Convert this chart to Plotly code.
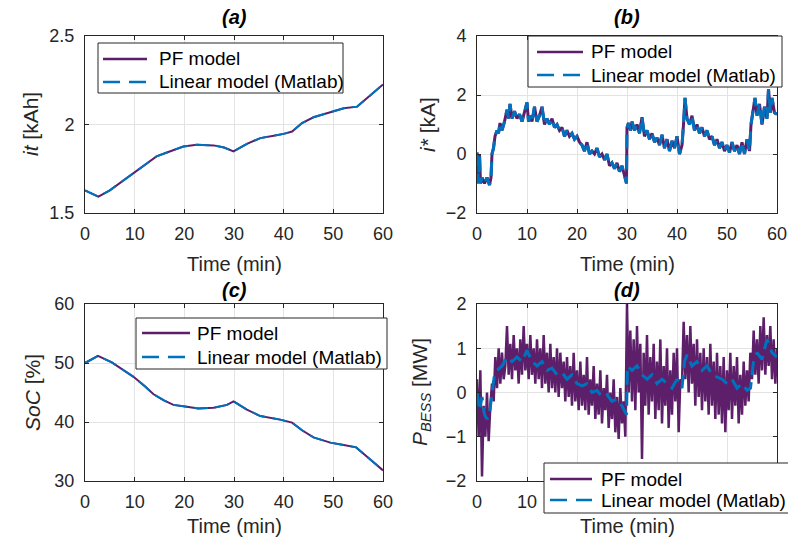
import numpy as np
import plotly.graph_objects as go

# ---------------- data ----------------
# (a) it [kAh]
time_a = [0, 1.2, 2.7, 5.0, 7.5, 9.7, 12.0, 14.4, 16.5, 19.8, 22.5, 25.9, 28.0, 29.9,
          32.6, 35.3, 38.0, 40.0, 41.7, 43.7, 46.0, 49.4, 52.1, 54.8, 57.5, 60.0]
it_a = [1.628, 1.612, 1.592, 1.628, 1.680, 1.726, 1.774, 1.820, 1.842, 1.876, 1.885, 1.882,
        1.870, 1.848, 1.891, 1.923, 1.937, 1.947, 1.960, 2.008, 2.041, 2.071, 2.092, 2.101,
        2.167, 2.226]

# (b) i* [kA]
time_b = [0, 0.3, 0.5, 0.7, 1, 1.5, 2, 2.5, 2.8, 3.0, 3.3, 3.6, 4, 4.3, 4.6, 5, 5.5, 6, 6.3,
          6.6, 7, 7.5, 8, 8.5, 9, 9.5, 10, 10.3, 10.7, 11, 11.5, 12, 12.5, 13, 13.5, 14, 14.5,
          15, 15.5, 16, 16.5, 17, 17.5, 18, 18.5, 19, 19.5, 20, 20.5, 21, 21.5, 22, 22.5, 23,
          23.5, 24, 24.5, 25, 25.5, 26, 26.5, 27, 27.5, 28, 28.5, 29, 29.5, 29.9, 30.0, 30.3,
          30.7, 31, 31.5, 32, 32.5, 33, 33.5, 34, 34.5, 35, 35.5, 36, 36.5, 37, 37.5, 38, 38.5,
          39, 39.5, 40, 40.5, 41, 41.3, 41.6, 42, 42.5, 43, 43.5, 44, 44.5, 45, 45.5, 46, 46.5,
          47, 47.5, 48, 48.5, 49, 49.5, 50, 50.5, 51, 51.5, 52, 52.5, 53, 53.5, 54, 54.5, 54.8,
          55.2, 55.6, 56, 56.5, 57, 57.5, 58, 58.3, 58.7, 59, 59.5, 60]
istar_b = [0.05, -1.0, 0.0, -1.0, -0.8, -1.0, -0.8, -1.05, -0.8, 0.0, 0.2, 0.6, 0.8, 0.7, 1.05,
           0.8, 1.1, 1.5, 1.2, 1.7, 1.2, 1.45, 1.2, 1.35, 1.1, 1.4, 1.75, 1.1, 1.3, 1.1, 1.6, 1.1,
           1.3, 1.6, 1.0, 1.2, 1.0, 1.2, 0.9, 1.0, 0.8, 0.9, 0.6, 0.8, 0.6, 0.7, 0.5, 0.6, 0.4,
           0.3, 0.1, 0.4, 0.0, 0.1, 0.0, 0.2, -0.1, 0.0, -0.2, 0.0, -0.4, -0.3, -0.5, -0.3, -0.6,
           -0.4, -0.7, -1.0, 0.9, 1.05, 0.8, 1.1, 0.8, 1.0, 0.7, 1.25, 0.6, 0.8, 0.5, 0.7, 0.4,
           0.55, 0.3, 0.65, 0.2, 0.5, 0.1, 0.45, 0.2, 0.6, 0.0, 0.3, 1.0, 1.9, 1.2, 1.0, 1.3, 0.8,
           1.0, 0.7, 0.9, 0.6, 0.8, 0.5, 0.6, 0.3, 0.5, 0.2, 0.4, 0.1, 0.3, 0.05, 0.4, 0.1, 0.3,
           0.0, 0.4, 0.0, 0.5, 0.1, 1.0, 1.5, 1.9, 1.3, 1.7, 1.0, 1.6, 1.2, 2.2, 1.4, 1.9, 1.4,
           1.35]

# (c) SoC [%]
time_c = [0, 2.6, 5.4, 7.5, 9.7, 12.0, 13.8, 15.8, 17.8, 20.5, 22.8, 25.9, 28.6, 29.9, 32.6,
          35.3, 39.3, 41.7, 43.7, 46.0, 49.4, 52.1, 54.6, 57.5, 60.0]
soc_c = [50.0, 51.2, 50.1, 48.9, 47.7, 46.1, 44.7, 43.7, 42.9, 42.6, 42.3, 42.4, 42.9, 43.5,
         42.1, 41.0, 40.4, 39.9, 38.6, 37.4, 36.5, 36.1, 35.7, 33.6, 31.8]

# (d) P_BESS [MW] -- PF model sampled every 1/3 min
step_d = 1.0 / 3.0
p_pf_d = [
    0.3, -1.0, 0.5, -1.9, -0.3, -1.0, 0.0, -1.1, -0.3,
    0.2, -0.2, 0.8, 0.1, 1.0, 0.2, 0.9, 0.3, 0.6,
    1.5, 0.4, 1.1, 0.3, 1.3, 0.5, 1.0, 0.2, 1.2,
    0.4, 1.5, 0.5, 1.1, 0.3, 1.3, 0.4, 1.0, 0.2,
    1.2, 0.3, 1.0, 0.1, 1.3, 0.2, 0.9, 0.0, 1.1,
    0.1, 0.8, 0.0, 1.0, -0.1, 0.9, 0.1, 0.7, -0.2,
    0.8, -0.1, 0.6, -0.3, 0.9, -0.2, 0.5, -0.4, 0.7,
    -0.3, 0.4, -0.4, 0.8, -0.5, 0.3, -0.3, 0.6, -0.6,
    0.2, -0.5, 0.5, -0.7, 0.1, -0.4, 0.4, -0.8, 0.0,
    -0.6, 0.3, -0.9, -0.1, -1.05, 0.1, -0.7, -0.2, -1.0,
    2.0, 0.0, 1.4, -0.2, 1.2, -0.4, 1.5, 0.0, 1.1,
    -1.5, 0.9, -0.3, 1.3, -0.5, 0.8, -0.2, 1.1, -0.6,
    0.7, -0.4, 1.2, -0.7, 0.6, -0.3, 1.0, -0.8, 0.5,
    -0.5, 0.9, -0.2, 1.0, -0.9, 0.3, 0.2, 1.6, 0.3,
    1.3, 0.0, 1.5, 0.2, 1.1, -0.3, 1.2, -0.1, 0.9,
    -0.4, 1.0, -0.2, 0.8, -0.5, 1.1, -0.3, 0.7, -0.6,
    0.9, -0.5, 0.6, -0.7, 0.8, -0.9, 0.5, -0.4, 0.9,
    -0.6, 0.6, -0.3, 0.8, -0.7, 0.4, -0.5, 0.7, -0.3,
    0.5, -0.2, 0.9, 0.3, 1.4, 0.4, 1.2, 0.2, 1.5,
    0.5, 1.7, 0.4, 1.3, 0.6, 1.5, 0.3, 1.2, 0.2,
    1.0]
time_d_pf = [i * step_d for i in range(len(p_pf_d))]

time_d_lin = [0, 0.5, 1, 1.5, 2, 2.5, 3, 3.5, 4, 5, 6, 7, 8, 9, 10, 11, 12, 13, 14, 15, 16,
              17, 18, 19, 20, 21, 22, 23, 24, 25, 26, 27, 28, 29, 29.9, 30.1, 31, 32, 33, 34,
              35, 36, 37, 38, 39, 40, 41, 41.5, 42, 43, 44, 45, 46, 47, 48, 49, 50, 51, 52,
              53, 54, 54.7, 55.3, 56, 57, 58, 59, 60]
p_lin_d = [0.0, -0.4, -0.1, -0.5, -0.6, -0.5, 0.0, 0.4, 0.5, 0.6, 0.8, 0.7, 0.8, 0.7, 0.95,
           0.7, 0.6, 0.7, 0.5, 0.55, 0.4, 0.45, 0.3, 0.4, 0.2, 0.15, 0.2, 0.0, 0.05, -0.1,
           -0.05, -0.2, -0.15, -0.3, -0.5, 0.6, 0.5, 0.6, 0.4, 0.3, 0.4, 0.2, 0.3, 0.2, 0.1,
           0.3, 0.1, 0.7, 0.85, 0.6, 0.7, 0.5, 0.6, 0.4, 0.35, 0.3, 0.2, 0.3, 0.1, 0.2, 0.05,
           0.1, 0.7, 0.9, 0.75, 1.2, 0.9, 0.8]

x_ticks = [0, 10, 20, 30, 40, 50, 60]
x_labels = ["0", "10", "20", "30", "40", "50", "60"]
# in panel (d) the legend box hides the labels from 20 onwards
x_labels_d = ["0", "10", "", "", "", "", ""]
names = ["PF model", "Linear model (Matlab)"]

# ---------------- style ----------------
W, H = 788, 538
PURPLE = "#5D1F6A"
BLUE = "#0072BD"
AXC = "#262626"
GRID = "#e3e3e3"
FONT = "Liberation Sans, Arial, Helvetica, sans-serif"
DASH = "14px,7px"


def px(x):
    return x / W


def py(y):
    return 1 - y / H


fig = go.Figure()

panels = [
    (time_a, it_a, time_a, it_a, "", 2, 2),
    (time_b, istar_b, time_b, istar_b, "2", 3, 3),
    (time_c, soc_c, time_c, soc_c, "3", 2, 2),
    (time_d_pf, p_pf_d, time_d_lin, p_lin_d, "4", 2.5, 3),
]

for xs, ys, xl, yl, sfx, wpf, wlin in panels:
    fig.add_trace(go.Scatter(x=xs, y=ys, mode="lines", name=names[0], showlegend=False,
                             line=dict(color=PURPLE, width=wpf),
                             xaxis="x" + sfx, yaxis="y" + sfx))
    fig.add_trace(go.Scatter(x=xl, y=yl, mode="lines", name=names[1], showlegend=False,
                             line=dict(color=BLUE, width=wlin, dash=DASH),
                             xaxis="x" + sfx, yaxis="y" + sfx))

common = dict(showline=True, linecolor=AXC, linewidth=1, mirror="ticks", ticks="inside",
              ticklen=4, tickcolor=AXC, showgrid=True, gridcolor=GRID, gridwidth=1,
              zeroline=False, automargin=False,
              tickfont=dict(size=18, color=AXC, family=FONT))

left = [px(85), px(383)]
right = [px(477), px(777)]
top = [py(213), py(36)]
bot = [py(481), py(304)]

fig.update_layout(
    xaxis=dict(common, domain=left, anchor="y", range=[0, 60], tickvals=x_ticks,
               ticktext=x_labels, ticklabelstandoff=4),
    yaxis=dict(common, domain=top, anchor="x", range=[1.5, 2.5], tickvals=[1.5, 2, 2.5],
               ticktext=["1.5", "2", "2.5"], ticklabelstandoff=6),
    xaxis2=dict(common, domain=right, anchor="y2", range=[0, 60], tickvals=x_ticks,
                ticktext=x_labels, ticklabelstandoff=4),
    yaxis2=dict(common, domain=top, anchor="x2", range=[-2, 4], tickvals=[-2, 0, 2, 4], ticklabelstandoff=6),
    xaxis3=dict(common, domain=left, anchor="y3", range=[0, 60], tickvals=x_ticks,
                ticktext=x_labels, ticklabelstandoff=4),
    yaxis3=dict(common, domain=bot, anchor="x3", range=[30, 60], tickvals=[30, 40, 50, 60], ticklabelstandoff=6),
    xaxis4=dict(common, domain=right, anchor="y4", range=[0, 60], tickvals=x_ticks,
                ticktext=x_labels_d, ticklabelstandoff=4),
    yaxis4=dict(common, domain=bot, anchor="x4", range=[-2, 2], tickvals=[-2, -1, 0, 1, 2], ticklabelstandoff=6),
)

# ---------------- legends (boxes with sample lines + text) ----------------
shapes = []
ann = []
leg_font = dict(size=19, color="black", family=FONT)
# (box x0, box x1, box y0, box y1, line x0, line x1, text x, row1 y, row2 y)
legend_boxes = [
    (98, 343, 43, 93, 103, 147, 157, 59, 82),
    (528, 782, 36, 87, 537, 583, 589, 52, 75),
    (136, 387, 318, 369, 142, 190, 195, 333, 357),
    (544, 792, 463, 513, 550, 592, 599, 479, 500),
]
for bx0, bx1, by0, by1, lx0, lx1, tx, r1, r2 in legend_boxes:
    shapes.append(dict(type="rect", xref="paper", yref="paper", layer="above",
                       x0=px(bx0), x1=px(bx1), y0=py(by1), y1=py(by0),
                       fillcolor="white", line=dict(color=AXC, width=1)))
    shapes.append(dict(type="line", xref="paper", yref="paper", layer="above",
                       x0=px(lx0), x1=px(lx1), y0=py(r1), y1=py(r1),
                       line=dict(color=PURPLE, width=2.5)))
    shapes.append(dict(type="line", xref="paper", yref="paper", layer="above",
                       x0=px(lx0), x1=px(lx1), y0=py(r2), y1=py(r2),
                       line=dict(color=BLUE, width=2.5, dash="17px,9px")))
    for nm, ry in zip(names, [r1, r2]):
        ann.append(dict(text=nm, x=px(tx), y=py(ry), xref="paper", yref="paper",
                        showarrow=False, xanchor="left", yanchor="middle", font=leg_font))

title_font = dict(size=20, color="black", family=FONT)
for txt, cx, cy in [("<b><i>(a)</i></b>", 234, 17), ("<b><i>(b)</i></b>", 627, 17),
                    ("<b><i>(c)</i></b>", 234, 290), ("<b><i>(d)</i></b>", 627, 290)]:
    ann.append(dict(text=txt, x=px(cx), y=py(cy), xref="paper", yref="paper",
                    showarrow=False, xanchor="center", yanchor="middle", font=title_font))

lab_font = dict(size=20, color=AXC, family=FONT)
for cx, cy in [(234, 264), (627, 264), (234, 526), (627, 526)]:
    ann.append(dict(text="Time (min)", x=px(cx), y=py(cy), xref="paper", yref="paper",
                    showarrow=False, xanchor="center", yanchor="middle", font=lab_font))

ylab_font = dict(size=21, color=AXC, family=FONT)
for txt, cx, cy in [("<i>it</i> [kAh]", 31, 124), ("<i>i*</i> [kA]", 428, 124),
                    ("<i>SoC</i> [%]", 32, 392), ("<i>P</i><sub><i>BESS</i></sub> [MW]", 421, 392)]:
    ann.append(dict(text=txt, x=px(cx), y=py(cy), xref="paper", yref="paper",
                    showarrow=False, xanchor="center", yanchor="middle", textangle=-90,
                    font=ylab_font))

fig.update_layout(annotations=ann, shapes=shapes, width=W, height=H, autosize=False,
                  margin=dict(l=0, r=0, t=0, b=0, autoexpand=False), paper_bgcolor="white",
                  plot_bgcolor="white", font=dict(family=FONT), showlegend=False)

fig.write_html("out.html")
